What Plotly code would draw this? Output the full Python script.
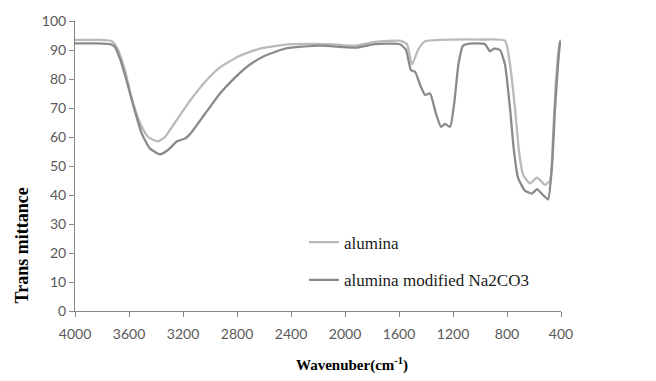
import plotly.graph_objects as go

# FTIR spectra: wavenumber (cm-1) and transmittance (%)
alumina_wn = [4000, 3850, 3726, 3681, 3630, 3578, 3519, 3459, 3385, 3333, 3259, 3148,
              3037, 2926, 2778, 2630, 2407, 2111, 1926, 1778, 1593, 1541, 1504, 1459,
              1407, 1200, 1000, 815, 778, 741, 711, 681, 630, 578, 519, 481, 459, 437,
              407, 400]
alumina_t = [93.5, 93.5, 93.0, 90.0, 83.0, 73.0, 65.0, 60.0, 58.5, 60.0, 65.0, 72.5,
             79.0, 84.0, 88.0, 90.5, 92.0, 92.0, 91.5, 92.8, 93.2, 92.0, 85.0, 90.0,
             93.0, 93.6, 93.6, 93.2, 85.0, 70.0, 55.0, 47.0, 44.0, 46.0, 43.5, 45.0,
             60.0, 80.0, 93.0, 93.5]

modified_wn = [4000, 3850, 3740, 3704, 3667, 3615, 3563, 3504, 3444, 3370, 3311, 3244,
               3185, 3148, 3037, 2926, 2815, 2704, 2593, 2444, 2185, 1926, 1778, 1593,
               1548, 1511, 1481, 1444, 1407, 1370, 1326, 1289, 1259, 1222, 1190, 1160,
               1125, 1074, 963, 926, 896, 852, 815, 778, 748, 719, 667, 615, 578, 533,
               496, 467, 444, 422, 407, 400]
modified_t = [92.3, 92.3, 92.0, 91.0, 87.0, 79.0, 70.0, 61.0, 56.0, 54.0, 55.5, 58.5,
              59.5, 61.0, 68.0, 75.0, 80.5, 85.0, 88.0, 90.5, 91.5, 90.8, 92.0, 92.0,
              90.0, 83.0, 82.5, 78.0, 74.5, 75.0, 68.0, 63.5, 64.5, 63.5, 72.0, 85.0,
              91.5, 92.2, 92.0, 89.5, 90.5, 90.0, 85.0, 70.0, 55.0, 46.0, 41.5, 40.5,
              42.0, 40.0, 38.5, 50.0, 70.0, 85.0, 92.5, 93.0]

x_ticks = [4000, 3600, 3200, 2800, 2400, 2000, 1600, 1200, 800, 400]
y_ticks = [0, 10, 20, 30, 40, 50, 60, 70, 80, 90, 100]

serif = "Liberation Serif"
tick_font = dict(family="Lato", size=14, color="#595959")

fig = go.Figure()
fig.add_trace(go.Scatter(x=alumina_wn, y=alumina_t, mode="lines", name="alumina",
                         line=dict(color="#bababa", width=2.3, shape="spline", smoothing=0.5),
                         legend="legend"))
fig.add_trace(go.Scatter(x=modified_wn, y=modified_t, mode="lines",
                         name="alumina modified Na2CO3",
                         line=dict(color="#8a8a8a", width=2.3, shape="spline", smoothing=0.5),
                         legend="legend2"))

axis_common = dict(showgrid=False, zeroline=False, showline=True, linecolor="#868686",
                   linewidth=1, ticks="outside", ticklen=5, tickcolor="#868686",
                   tickfont=tick_font)

fig.update_xaxes(range=[4000, 400], tickvals=x_ticks, ticklabelstandoff=5, **axis_common)
fig.update_yaxes(range=[0, 100], tickvals=y_ticks, **axis_common)

legend_common = dict(font=dict(family=serif, size=17, color="#1a1a1a"),
                     bgcolor="rgba(0,0,0,0)", xanchor="left", yanchor="middle",
                     itemwidth=30)
fig.update_layout(
    width=656, height=381,
    margin=dict(l=75, r=95, t=19, b=70),
    paper_bgcolor="white", plot_bgcolor="white",
    showlegend=True,
    legend=dict(x=0.471, y=0.236, **legend_common),
    legend2=dict(x=0.471, y=0.106, **legend_common),
    annotations=[
        dict(text="<b>Wavenuber(cm<sup>-1</sup>)</b>", xref="paper", yref="paper",
             x=0.57, y=-0.185, xanchor="center", yanchor="middle", showarrow=False,
             font=dict(family=serif, size=15, color="#000000")),
        dict(text="<b>Trans mittance</b>", xref="paper", yref="paper",
             x=-0.109, y=0.226, xanchor="center", yanchor="middle", showarrow=False,
             textangle=-90, font=dict(family=serif, size=18, color="#000000")),
    ],
)

fig.write_html("out.html")
